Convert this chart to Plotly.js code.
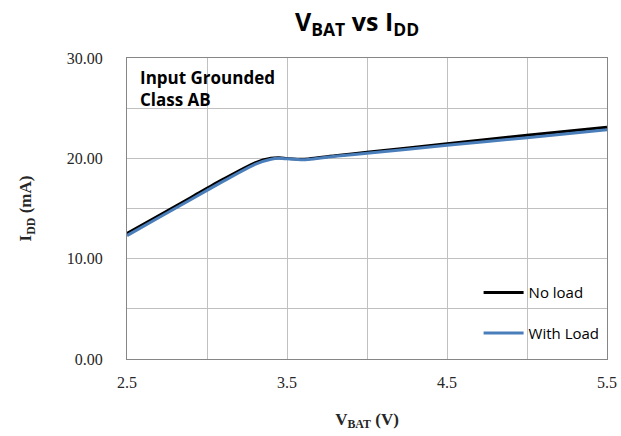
<!DOCTYPE html>
<html><head><meta charset="utf-8">
<script src="https://cdn.plot.ly/plotly-3.0.1.min.js"></script>
<style>body{margin:0;background:#fff}#c{width:621px;height:436px}</style>
</head><body><div id="c"></div>
<script>
const vbat = [2.5, 2.7, 2.9, 3.1, 3.3, 3.4, 3.45, 3.5, 3.6, 3.8, 4.0, 4.5, 5.0, 5.5];
const iddNoLoad = [12.5, 14.3, 16.1, 17.9, 19.55, 20.0, 20.05, 19.98, 19.9, 20.25, 20.6, 21.45, 22.3, 23.1];
const iddWithLoad = [12.3, 14.1, 15.9, 17.7, 19.4, 19.9, 20.0, 19.95, 19.85, 20.2, 20.5, 21.3, 22.05, 22.85];
const seriesNames = ['No load', 'With Load'];
const xTicks = [2.5, 3.5, 4.5, 5.5];
const yTicks = [0, 10, 20, 30];

const traces = [
  {x: vbat, y: iddNoLoad, name: seriesNames[0], mode: 'lines', legendgroup: 'a',
   line: {color: '#000000', width: 3, shape: 'spline', smoothing: 0.6}},
  {x: vbat, y: iddWithLoad, name: seriesNames[1], mode: 'lines', legendgroup: 'b',
   line: {color: '#4a7ebb', width: 3, shape: 'spline', smoothing: 0.6}}
];
const serif = 'Liberation Serif, Times New Roman, serif';
const sans = 'Open Sans, sans-serif';
const layout = {
  width: 621, height: 436,
  margin: {l: 127, r: 14, t: 58, b: 77},
  paper_bgcolor: '#fff', plot_bgcolor: '#fff',
  showlegend: true,
  title: {text: '<b>V<sub>BAT</sub> vs I<sub>DD</sub></b>', x: 0.575, xanchor: 'center', y: 0.95, yanchor: 'middle',
          font: {family: sans, size: 25, color: '#000'}},
  xaxis: {range: [2.5, 5.5], tickvals: xTicks, ticktext: xTicks.map(v => v.toFixed(1)),
          showgrid: true, gridcolor: '#c0c0c0', gridwidth: 1,
          minor: {dtick: 0.5, tick0: 2.5, showgrid: true, gridcolor: '#c0c0c0', gridwidth: 1},
          zeroline: false, showline: true, linecolor: '#868686', linewidth: 1, mirror: true,
          ticks: '', ticklabelstandoff: 9,
          tickfont: {family: serif, size: 16, color: '#262626'},
          title: {text: '<b>V<sub>BAT</sub> (V)</b>', standoff: 22,
                  font: {family: serif, size: 17, color: '#262626'}}},
  yaxis: {range: [0, 30], tickvals: yTicks, ticktext: yTicks.map(v => v.toFixed(2)),
          showgrid: true, gridcolor: '#c0c0c0', gridwidth: 1,
          minor: {dtick: 5, tick0: 0, showgrid: true, gridcolor: '#c0c0c0', gridwidth: 1},
          zeroline: false, showline: true, linecolor: '#868686', linewidth: 1, mirror: true,
          ticks: '', ticklabelstandoff: 20,
          tickfont: {family: serif, size: 16, color: '#262626'},
          title: {text: '<b>I<sub>DD</sub> (mA)</b>', standoff: 30,
                  font: {family: serif, size: 17, color: '#262626'}}},
  legend: {x: 0.995, xanchor: 'right', y: 0.275, yanchor: 'top', bgcolor: 'rgba(0,0,0,0)',
           tracegroupgap: 18, itemwidth: 40,
           font: {family: sans, size: 15, color: '#000'}},
  annotations: [
    {xref: 'paper', yref: 'paper', x: 0.022, y: 0.98, xanchor: 'left', yanchor: 'top', align: 'left',
     showarrow: false, text: '<b>Input Grounded<br>Class AB</b>',
     font: {family: sans, size: 17, color: '#000'}}
  ]
};
Plotly.newPlot('c', traces, layout, {displayModeBar: false, staticPlot: true});
</script></body></html>
